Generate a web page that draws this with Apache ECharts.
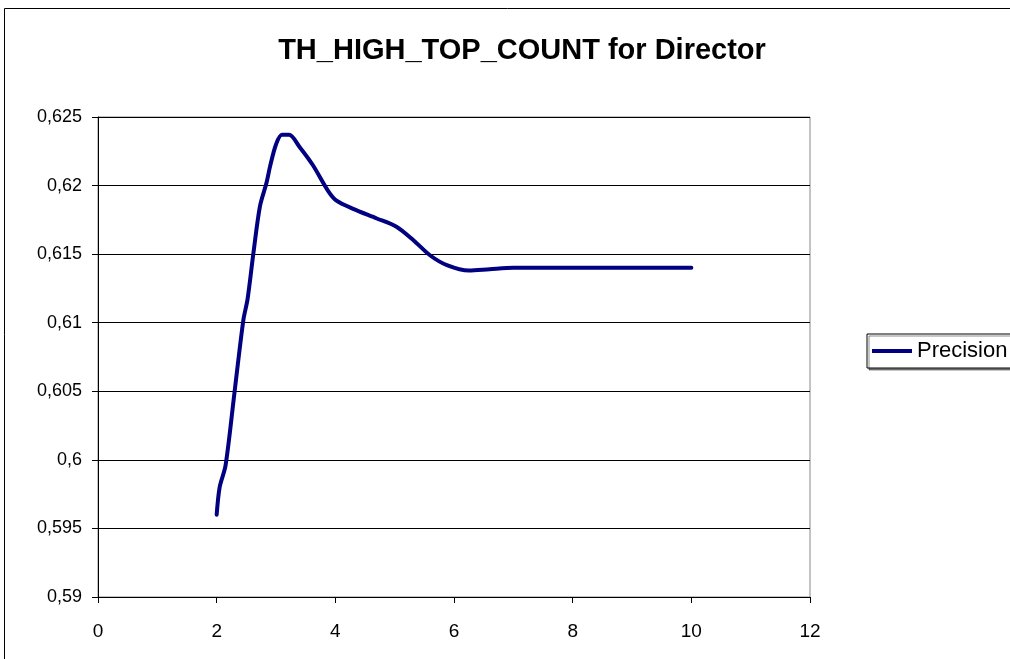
<!DOCTYPE html>
<html>
<head>
<meta charset="utf-8">
<script src="https://cdn.jsdelivr.net/npm/echarts@6/dist/echarts.min.js"></script>
<style>
  html, body { margin: 0; padding: 0; background: #fff; }
  #chart { width: 1010px; height: 659px; }
</style>
</head>
<body>
<div id="chart"></div>
<script>
// Threshold values (x) and measured precision (y)
const thresholds = [2, 2.05, 2.15, 2.3, 2.45, 2.52, 2.62, 2.73, 2.84, 2.9, 3.0, 3.1, 3.22, 3.4, 3.62, 3.88, 4.02, 4.3, 4.7, 5.03, 5.32, 5.6, 5.88, 6.25, 6.6, 7, 8, 9, 10];
const precision  = [0.596, 0.598, 0.5996, 0.6049, 0.6102, 0.6117, 0.6151, 0.6185, 0.6202, 0.6214, 0.6230, 0.6237, 0.6237, 0.6228, 0.6215, 0.6196, 0.6189, 0.6183, 0.6176, 0.6170, 0.6160, 0.6149, 0.6142, 0.6138, 0.6139, 0.6140, 0.6140, 0.6140, 0.6140];
const seriesName = 'Precision';
const chartTitle = 'TH_HIGH_TOP_COUNT for Director';

const points = thresholds.map((x, i) => [x, precision[i]]);
const font = 'Liberation Sans, Arial, sans-serif';

const chart = echarts.init(document.getElementById('chart'), null, { renderer: 'canvas' });
chart.setOption({
  animation: false,
  backgroundColor: '#ffffff',
  title: {
    text: chartTitle,
    left: 517, top: 31, textAlign: 'center',
    textStyle: { fontFamily: font, fontWeight: 'bold', fontSize: 29, color: '#000' }
  },
  legend: {
    left: 867, top: 334,
    padding: [6, 20, 6, 5],
    backgroundColor: '#fff',
    borderColor: '#000', borderWidth: 1,
    shadowColor: 'rgba(0,0,0,0.45)', shadowOffsetX: 2, shadowOffsetY: 2,
    icon: 'rect', itemWidth: 40, itemHeight: 4, itemGap: 4,
    textStyle: { fontFamily: font, fontSize: 22, color: '#000' },
    data: [seriesName]
  },
  grid: { left: 98, right: 200, top: 117, bottom: 62, show: true, borderColor: '#888', borderWidth: 1 },
  xAxis: {
    type: 'value', min: 0, max: 12, interval: 2,
    axisLine: { onZero: false, lineStyle: { color: '#000', width: 1 } },
    axisTick: { show: true, length: 6, inside: false, lineStyle: { color: '#000' } },
    axisLabel: { fontFamily: font, fontSize: 19, color: '#000', margin: 25 },
    splitLine: { show: false }
  },
  yAxis: {
    type: 'value', min: 0.59, max: 0.625, interval: 0.005,
    axisLine: { show: true, lineStyle: { color: '#000', width: 1 } },
    axisTick: { show: true, length: 6, lineStyle: { color: '#000' } },
    axisLabel: {
      fontFamily: font, fontSize: 18, color: '#000', margin: 16,
      formatter: v => String(+v.toFixed(3)).replace('.', ',')
    },
    splitLine: { show: true, lineStyle: { color: '#000', width: 1 } }
  },
  graphic: [
    { type: 'rect', shape: { x: 4.5, y: 8.5, width: 1100, height: 700 }, style: { fill: 'none', stroke: '#000', lineWidth: 1 }, z: 0 }
  ],
  series: [{
    name: seriesName,
    type: 'line',
    data: points,
    smooth: 0.3,
    showSymbol: false,
    lineStyle: { color: '#000080', width: 4, cap: 'round', join: 'round' },
    itemStyle: { color: '#000080' }
  }]
});
</script>
</body>
</html>
